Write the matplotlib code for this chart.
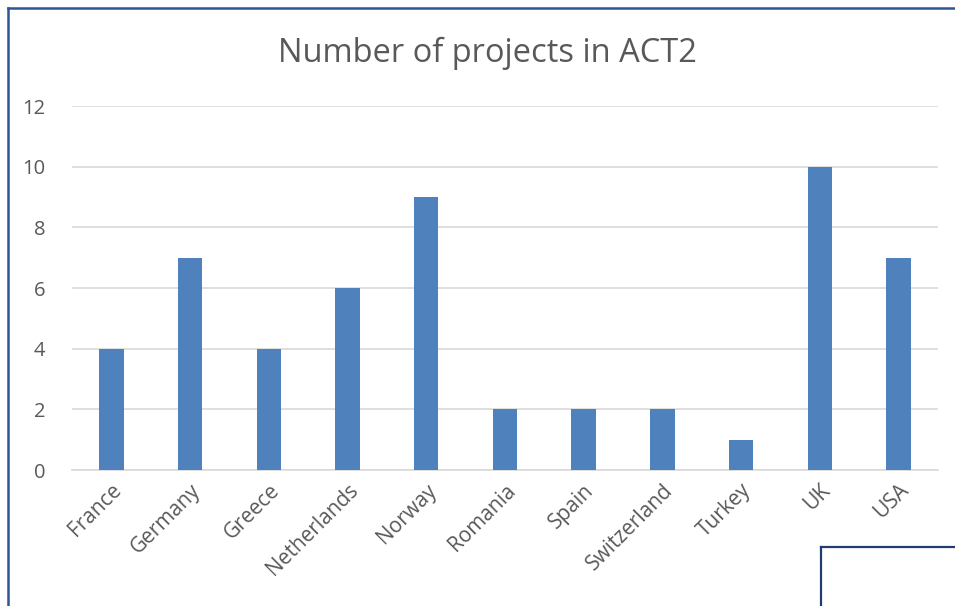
import numpy as np
import matplotlib.pyplot as plt
from matplotlib.lines import Line2D

countries = ['France', 'Germany', 'Greece', 'Netherlands', 'Norway', 'Romania',
             'Spain', 'Switzerland', 'Turkey', 'UK', 'USA']
projects = [4, 7, 4, 6, 9, 2, 2, 2, 1, 10, 7]
yticks = [0, 2, 4, 6, 8, 10, 12]

plt.rcParams['font.family'] = ['Open Sans', 'DejaVu Sans']
grey = '#595959'
frame = '#2F5597'

fig = plt.figure(figsize=(9.55, 6.06), dpi=100)
ax = fig.add_axes([0.0754, 0.2244, 0.9066, 0.6006])

x = np.arange(len(countries))
ax.bar(x, projects, width=0.31, color='#4F81BD', zorder=3)
ax.set_xlim(-0.5, len(countries) - 0.5)
ax.set_ylim(0, 12)
ax.set_yticks(yticks)
ax.set_yticklabels([str(v) for v in yticks], fontsize=14.5, color=grey)
ax.set_xticks(x)
ax.set_xticklabels(countries, rotation=45, ha='right', rotation_mode='anchor',
                   fontsize=15, color=grey)
ax.tick_params(axis='both', length=0)
ax.tick_params(axis='y', pad=19)
ax.tick_params(axis='x', pad=7)
ax.grid(axis='y', color='#D9D9D9', linewidth=1.2, zorder=0)
for s in ['top', 'right', 'left']:
    ax.spines[s].set_visible(False)
ax.spines['bottom'].set_color('#D9D9D9')
ax.spines['bottom'].set_linewidth(1.2)

fig.text(0.51, 0.912, 'Number of projects in ACT2', ha='center', va='center',
         fontsize=23.5, color=grey)

# outer frame (top and left) and the box in the lower right corner
W, H = 955, 606
fig.add_artist(Line2D([8 / W, 1], [1 - 8 / H, 1 - 8 / H], color=frame, lw=1.8))
fig.add_artist(Line2D([8 / W, 8 / W], [0, 1 - 8 / H], color=frame, lw=1.8))
fig.add_artist(Line2D([821 / W, 1], [1 - 547 / H, 1 - 547 / H], color='#1F3E6E', lw=1.6))
fig.add_artist(Line2D([821 / W, 821 / W], [0, 1 - 547 / H], color='#1F3E6E', lw=1.6))

fig.savefig('out.png', dpi=100)
